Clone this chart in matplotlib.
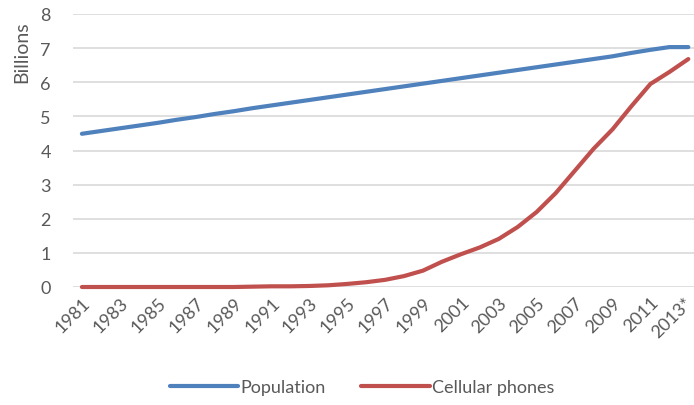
import matplotlib.pyplot as plt
from matplotlib.transforms import ScaledTranslation

plt.rcParams['font.family'] = ['Lato', 'DejaVu Sans']

years = list(range(1981, 2014))
year_labels = [str(y) for y in range(1981, 2013, 2)] + ['2013*']

# world population, billions
population = [4.49, 4.57, 4.65, 4.73, 4.81, 4.90, 4.98, 5.07, 5.15, 5.24,
              5.32, 5.40, 5.48, 5.56, 5.64, 5.72, 5.80, 5.88, 5.96, 6.04,
              6.12, 6.20, 6.28, 6.36, 6.44, 6.52, 6.60, 6.68, 6.76, 6.86,
              6.95, 7.03, 7.03]

# cellular phone subscriptions, billions
phones = [0.00, 0.00, 0.00, 0.00, 0.00, 0.00, 0.00, 0.00, 0.00, 0.01,
          0.02, 0.02, 0.03, 0.05, 0.09, 0.14, 0.21, 0.32, 0.48, 0.74,
          0.96, 1.16, 1.41, 1.76, 2.20, 2.75, 3.40, 4.05, 4.62, 5.30,
          5.95, 6.30, 6.68]

blue = '#4F81BD'
red = '#C0504D'
grey_text = '#595959'

fig = plt.figure(figsize=(6.94, 4.06), dpi=100)
ax = fig.add_axes([73 / 694, 1 - 288 / 406, 1 - 73 / 694, (288 - 15) / 406])

ax.plot(years, population, color=blue, lw=3, solid_capstyle='round',
        label='Population', clip_on=False)
ax.plot(years, phones, color=red, lw=3, solid_capstyle='round',
        label='Cellular phones', clip_on=False)

ax.set_xlim(1980.53, 2013.3)
ax.set_ylim(0, 8)
ax.set_yticks(range(0, 9))
ax.set_xticks(range(1981, 2014, 2))
ax.set_xticklabels(year_labels, rotation=45, ha='right', va='top',
                   rotation_mode='anchor')
ax.tick_params(axis='both', length=0, labelsize=13, colors=grey_text)
ax.tick_params(axis='x', pad=5)
ax.tick_params(axis='y', pad=16)

# nudge the last year label so the asterisk stays inside the figure
last = ax.get_xticklabels()[-1]
last.set_transform(last.get_transform() +
                   ScaledTranslation(-5 / 100, 0, fig.dpi_scale_trans))

ax.grid(axis='y', color='#D9D9D9', lw=1.2)
ax.set_axisbelow(True)
for s in ax.spines.values():
    s.set_visible(False)

fig.text(22 / 694, 1 - 52 / 406, 'Billions', rotation=90, ha='center',
         va='center', fontsize=14, color=grey_text)

fig.legend(loc='center', bbox_to_anchor=(362 / 694, 1 - 388 / 406), ncol=2,
           frameon=False, fontsize=13, handlelength=3.8, handletextpad=0.1,
           columnspacing=2.0, labelcolor=grey_text)

fig.savefig('out.png', dpi=100)
